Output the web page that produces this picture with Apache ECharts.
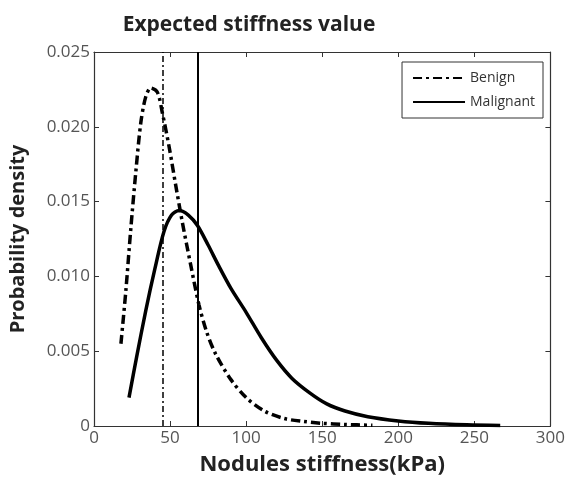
<!DOCTYPE html>
<html>
<head>
<meta charset="utf-8">
<script src="https://cdn.jsdelivr.net/npm/echarts@6/dist/echarts.min.js"></script>
<style>html,body{margin:0;padding:0;background:#fff}#c{width:568px;height:481px}</style>
</head>
<body>
<div id="c"></div>
<script>
var titleText = 'Expected stiffness value';
var xName = 'Nodules stiffness(kPa)';
var yName = 'Probability density';
var seriesNames = ['Benign', 'Malignant'];

var benignX = [17.7, 20.9, 24.2, 27.5, 30.8, 34, 37.3, 41.7, 45, 49.3, 53.7, 58.1, 63.5, 69, 74, 80, 90, 100, 112, 125, 138, 150, 165, 183];
var benignY = [0.0055, 0.0090, 0.0132, 0.0170, 0.0203, 0.0220, 0.0226, 0.0223, 0.0209, 0.0187, 0.0161, 0.0136, 0.0108, 0.0081, 0.0063, 0.0048, 0.0031, 0.0019, 0.0010, 0.0005, 0.0003, 0.00018, 0.0001, 0.00005];

var malignantX = [23, 28, 34, 40, 46, 51, 56, 62, 68, 75, 82, 90, 100, 110, 120, 130, 142, 153, 165, 180, 200, 220, 245, 267];
var malignantY = [0.0019, 0.0046, 0.0077, 0.0105, 0.0130, 0.0141, 0.0144, 0.0141, 0.0134, 0.0121, 0.0107, 0.0092, 0.0076, 0.0059, 0.0044, 0.0032, 0.0022, 0.00148, 0.0010, 0.00062, 0.00034, 0.00018, 0.00008, 0.00004];

var benignMean = 45;
var malignantMean = 68;

var xMin = 0, xMax = 300, xStep = 50;
var yMin = 0, yMax = 0.025, yStep = 0.005;

function zip(a, b) { return a.map(function (v, i) { return [v, b[i]]; }); }

var dashDot = [9, 4, 3, 4];
var font = '"Open Sans", "Noto Sans", sans-serif';

var chart = echarts.init(document.getElementById('c'), null, { renderer: 'canvas' });
function axisCommon() {
  return {
    axisLine: { show: true, onZero: false, lineStyle: { color: '#333', width: 1.2 } },
    axisTick: { show: true, inside: true, length: 5, lineStyle: { color: '#333' } },
    splitLine: { show: false }
  };
}
chart.setOption({
  animation: false,
  backgroundColor: '#fff',
  title: {
    text: titleText, left: 244, top: 10, textAlign: 'center',
    textStyle: { fontFamily: font, fontWeight: 'bold', fontSize: 21, color: '#222' }
  },
  grid: { left: 93, right: 17, top: 52, bottom: 52 },
  legend: {
    orient: 'vertical', right: 25, top: 62,
    borderColor: '#333', borderWidth: 1, borderRadius: 0,
    padding: [9, 8, 9, 10], itemWidth: 52, itemHeight: 12, itemGap: 10,
    itemStyle: { opacity: 0 },
    textStyle: { fontFamily: font, fontSize: 14, color: '#333' },
    data: seriesNames
  },
  xAxis: [
    Object.assign({
      type: 'value', min: xMin, max: xMax, interval: xStep,
      name: xName, nameLocation: 'middle', nameGap: 28,
      nameTextStyle: { fontFamily: font, fontWeight: 'bold', fontSize: 22, color: '#222' },
      axisLabel: { fontFamily: font, fontSize: 17, color: '#555', margin: 4 }
    }, axisCommon()),
    Object.assign({
      type: 'value', min: xMin, max: xMax, interval: xStep, position: 'top',
      axisLabel: { show: false }
    }, axisCommon())
  ],
  yAxis: [
    Object.assign({
      type: 'value', min: yMin, max: yMax, interval: yStep,
      name: yName, nameLocation: 'middle', nameGap: 66,
      nameTextStyle: { fontFamily: font, fontWeight: 'bold', fontSize: 20, color: '#222' },
      axisLabel: {
        fontFamily: font, fontSize: 17, color: '#555', margin: 4,
        formatter: function (v) { return v === 0 ? '0' : v.toFixed(3); }
      }
    }, axisCommon()),
    Object.assign({
      type: 'value', min: yMin, max: yMax, interval: yStep, position: 'right',
      axisLabel: { show: false }
    }, axisCommon())
  ],
  series: [
    {
      name: seriesNames[0], type: 'line', smooth: 0.3, symbol: 'none',
      data: zip(benignX, benignY),
      lineStyle: { color: '#000', width: 3.5, type: dashDot },
      itemStyle: { color: '#000' },
      markLine: {
        silent: true, symbol: 'none', label: { show: false },
        lineStyle: { color: '#000', width: 1.5, type: [6, 3, 2, 3] },
        data: [{ xAxis: benignMean }]
      }
    },
    {
      name: seriesNames[1], type: 'line', smooth: 0.3, symbol: 'none',
      data: zip(malignantX, malignantY),
      lineStyle: { color: '#000', width: 3.5, type: 'solid' },
      itemStyle: { color: '#000' },
      markLine: {
        silent: true, symbol: 'none', label: { show: false },
        lineStyle: { color: '#000', width: 2, type: 'solid' },
        data: [{ xAxis: malignantMean }]
      }
    }
  ]
});
</script>
</body>
</html>
